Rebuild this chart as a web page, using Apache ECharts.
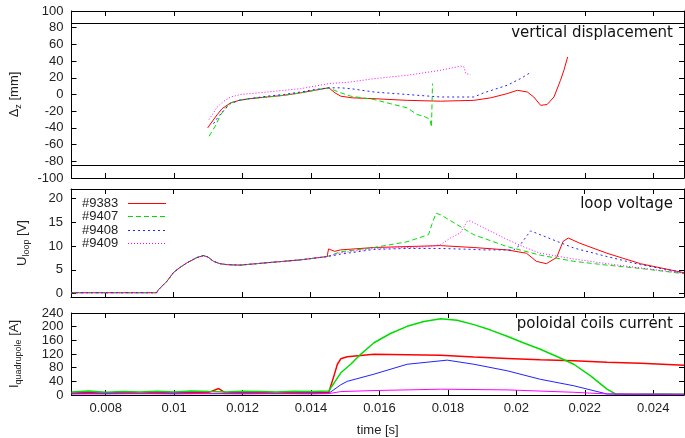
<!DOCTYPE html>
<html>
<head>
<meta charset="utf-8">
<script src="https://cdn.jsdelivr.net/npm/echarts@6/dist/echarts.min.js"></script>
<style>
  html, body { margin: 0; padding: 0; background: #fff; }
  #chart { width: 685px; height: 438px; }
</style>
</head>
<body>
<div id="chart"></div>
<script>
  // shots shown in every panel
  const shots = ["#9383", "#9407", "#9408", "#9409"];
  const timeTicks = [0.008, 0.01, 0.012, 0.014, 0.016, 0.018, 0.02, 0.022, 0.024];
  const uloopTicks = [0, 5, 10, 15, 20];
  const dzLimits = [85, -85];

  // vertical displacement [mm]
  const dz9383 = [[0.01098,-40],[0.0111,-33],[0.01126,-24],[0.0114,-17],[0.01165,-10],[0.0119,-7],[0.0122,-5],[0.01272,-3],[0.0132,-1],[0.0137,2],[0.0141,5],[0.01452,8],[0.0147,2],[0.01487,-2],[0.0152,-4],[0.01584,-5],[0.01681,-7],[0.01779,-8],[0.01876,-7],[0.01925,-4],[0.01973,1],[0.02003,5],[0.02032,3],[0.02051,-3],[0.02071,-13],[0.0209,-12],[0.0211,-3],[0.02129,17],[0.02139,29],[0.0215,45]];
  const dz9407 = [[0.01102,-50],[0.0112,-38],[0.01135,-25],[0.0115,-16],[0.01165,-10],[0.0119,-7],[0.0122,-5],[0.01272,-3],[0.0132,-1],[0.0137,2],[0.0141,5],[0.01452,8],[0.0148,3],[0.01516,-2],[0.01584,-6],[0.01632,-11],[0.01681,-16],[0.0171,-24],[0.0173,-26],[0.01748,-30],[0.01752,-39],[0.01755,13]];
  const dz9408 = [[0.01115,-35],[0.0113,-26],[0.0115,-17],[0.01165,-11],[0.0119,-7],[0.0122,-5],[0.01272,-2],[0.0132,0],[0.0137,3],[0.0141,6],[0.01452,8],[0.01487,8],[0.01516,7],[0.01584,3],[0.01681,0],[0.01779,-3],[0.01876,-3],[0.01905,2],[0.01973,11],[0.02012,19],[0.0204,26]];
  const dz9409 = [[0.01102,-30],[0.01126,-15],[0.01145,-8],[0.01165,-3],[0.01194,0],[0.01272,3],[0.0137,7],[0.01452,13],[0.01516,15],[0.01584,19],[0.01681,23],[0.01779,29],[0.01837,34],[0.01847,33],[0.01852,25],[0.01866,24]];

  // loop voltage [V]
  const uloopStart = [[0.007,0.2],[0.0095,0.2],[0.00955,0.8],[0.0098,2.6],[0.01,4.5],[0.0102,5.6],[0.01039,6.5],[0.01068,7.6],[0.01087,8.0],[0.011,7.7],[0.01116,6.8],[0.01135,6.3],[0.01155,6.1],[0.01194,6.0],[0.01272,6.5],[0.0137,7.1],[0.01448,7.8]];
  const uloop9383 = uloopStart.concat([[0.01452,9.4],[0.0147,8.9],[0.01487,9.2],[0.01584,9.7],[0.01681,9.9],[0.01779,10.1],[0.01876,9.7],[0.01973,9.2],[0.0203,8.5],[0.02059,6.8],[0.02088,6.3],[0.02118,7.6],[0.02137,11],[0.02152,11.7],[0.02186,10.6],[0.02265,8.5],[0.02363,6.3],[0.0249,4.4]]);
  const uloop9407 = uloopStart.concat([[0.01487,8.8],[0.01584,9.7],[0.01681,10.9],[0.01744,12.4],[0.01754,14.6],[0.01766,16.9],[0.01779,16.6],[0.01876,12.4],[0.01973,9.9],[0.0207,8.1],[0.02168,6.8],[0.02265,6.0],[0.02363,5.3],[0.0249,4.2]]);
  const uloop9408 = uloopStart.concat([[0.01487,8.3],[0.01584,9.3],[0.01681,9.5],[0.01779,9.5],[0.01876,9.3],[0.01905,9.2],[0.01993,9.2],[0.02012,10.3],[0.02042,13.2],[0.0207,12.4],[0.02168,9.6],[0.02265,7.8],[0.02363,6.1],[0.0249,4.4]]);
  const uloop9409 = uloopStart.concat([[0.01487,8.6],[0.01584,9.5],[0.01681,9.7],[0.01744,9.9],[0.01779,10.3],[0.01808,11.7],[0.01837,12.8],[0.01857,15.2],[0.01866,15.3],[0.01895,14.2],[0.01973,11.4],[0.0203,9.6],[0.0207,8.5],[0.02168,7.3],[0.02265,6.3],[0.02363,5.4],[0.0249,4.3]]);

  // quadrupole coil current [A]
  const iq9383 = [[0.007,6],[0.0075,7],[0.008,5],[0.0085,8],[0.009,6],[0.0095,7],[0.01,6],[0.0105,9],[0.011,7],[0.0113,19],[0.0115,6],[0.012,8],[0.0125,7],[0.013,6],[0.0135,8],[0.014,7],[0.01452,8],[0.01467,56],[0.01477,90],[0.01487,106],[0.01506,112],[0.01584,119],[0.01681,118],[0.01779,116],[0.01876,111],[0.01973,107],[0.0207,103],[0.02168,100],[0.02265,96],[0.02363,93],[0.0249,87]];
  const iq9407 = [[0.007,9],[0.0075,12],[0.008,8],[0.0085,10],[0.009,9],[0.0095,11],[0.01,9],[0.0105,12],[0.011,10],[0.0115,9],[0.012,11],[0.0125,10],[0.013,9],[0.0135,11],[0.014,10],[0.01452,12],[0.01487,65],[0.01516,90],[0.01545,119],[0.01584,153],[0.01632,180],[0.01681,201],[0.0173,215],[0.01779,223],[0.01827,219],[0.01876,206],[0.01925,190],[0.01973,172],[0.0202,153],[0.0207,134],[0.0212,112],[0.02168,90],[0.02217,56],[0.02265,17],[0.0229,3],[0.0235,2],[0.0242,3],[0.0249,2]];
  const iq9408 = [[0.007,4],[0.008,5],[0.009,4],[0.01,5],[0.011,4],[0.012,5],[0.013,4],[0.014,5],[0.01452,5],[0.01487,30],[0.01506,40],[0.01584,61],[0.01681,90],[0.01798,102],[0.01876,90],[0.01973,71],[0.0207,46],[0.02168,27],[0.02265,3],[0.0235,2],[0.0249,2]];
  const iq9409 = [[0.007,3],[0.008,3],[0.009,4],[0.01,3],[0.011,4],[0.012,3],[0.013,4],[0.014,3],[0.01452,4],[0.01487,10],[0.01584,13],[0.01779,17],[0.01973,15],[0.02168,8],[0.02265,3],[0.0249,2]];

  const colors = ["#ff0000", "#00dd00", "#2222ff", "#ff00ff"];
  const dashes = ["solid", [5, 3], [2, 3], [1, 2]];
  const font = "Liberation Sans";

  const myChart = echarts.init(document.getElementById("chart"));

  const grids = [
    { left: 71, width: 613, top: 11, height: 167 },
    { left: 71, width: 613, top: 189, height: 108 },
    { left: 71, width: 613, top: 313, height: 83 },
  ];

  function makeX(gi, pos, withLabels) {
    return {
      type: "value",
      gridIndex: gi,
      position: pos,
      min: 0.007,
      max: 0.0249,
      splitLine: { show: false },
      axisLine: { show: true, onZero: false, lineStyle: { color: "#000", width: 1 } },
      axisTick: { show: true, inside: true, length: 5, customValues: timeTicks, lineStyle: { color: "#000" } },
      axisLabel: {
        show: withLabels,
        customValues: timeTicks,
        margin: 7,
        color: "#222",
        fontFamily: font,
        fontSize: 13,
        formatter: (v) => String(+v.toFixed(4)),
      },
    };
  }

  function makeY(gi, pos, range, withLabels, name, gap) {
    const y = {
      type: "value",
      gridIndex: gi,
      position: pos,
      min: range.min,
      max: range.max,
      splitLine: { show: false },
      axisLine: { show: true, onZero: false, lineStyle: { color: "#000", width: 1 } },
      axisTick: { show: true, inside: true, length: 5, lineStyle: { color: "#000" } },
      axisLabel: { show: withLabels, margin: 8, color: "#222", fontFamily: font, fontSize: 13 },
    };
    if (range.interval) y.interval = range.interval;
    if (range.ticks) {
      y.axisTick.customValues = range.ticks;
      y.axisLabel.customValues = range.ticks;
    }
    if (name) {
      y.name = name;
      y.nameLocation = "middle";
      y.nameRotate = 90;
      y.nameGap = gap;
      y.nameTextStyle = {
        color: "#222",
        fontFamily: font,
        rich: {
          m: { fontSize: 13, fontFamily: font, color: "#222", lineHeight: 18 },
          s: { fontSize: 9, fontFamily: font, color: "#222", lineHeight: 9, verticalAlign: "bottom" },
        },
      };
    }
    return y;
  }

  const ranges = [
    { min: -100, max: 100, interval: 20 },
    { min: -0.7, max: 22, ticks: uloopTicks },
    { min: 0, max: 240, interval: 40 },
  ];

  const xAxes = [];
  const yAxes = [];
  for (let g = 0; g < 3; g++) {
    xAxes.push(makeX(g, "bottom", g === 2));
    xAxes.push(makeX(g, "top", false));
  }
  xAxes[4].name = "time [s]";
  xAxes[4].nameLocation = "middle";
  xAxes[4].nameGap = 29;
  xAxes[4].nameTextStyle = { color: "#222", fontFamily: font, fontSize: 13 };

  yAxes.push(makeY(0, "left", ranges[0], true, "{m|Δ}{s|z}{m| [mm]}", 48));
  yAxes.push(makeY(0, "right", ranges[0], false));
  yAxes.push(makeY(1, "left", ranges[1], true, "{m|U}{s|loop}{m| [V]}", 40));
  yAxes.push(makeY(1, "right", ranges[1], false));
  yAxes.push(makeY(2, "left", ranges[2], true, "{m|I}{s|quadrupole}{m| [A]}", 48));
  yAxes.push(makeY(2, "right", ranges[2], false));

  const panels = [
    [dz9383, dz9407, dz9408, dz9409],
    [uloop9383, uloop9407, uloop9408, uloop9409],
    [iq9383, iq9407, iq9408, iq9409],
  ];

  // the two horizontal limit lines of the displacement panel
  const series = [
    {
      name: "limits",
      type: "line",
      xAxisIndex: 0,
      yAxisIndex: 0,
      data: [],
      silent: true,
      markLine: {
        symbol: "none",
        silent: true,
        label: { show: false },
        lineStyle: { color: "#000", type: "solid", width: 1 },
        data: dzLimits.map((v) => ({ yAxis: v })),
      },
    },
  ];
  panels.forEach((list, p) => {
    list.forEach((data, i) => {
      series.push({
        name: shots[i],
        type: "line",
        color: colors[i],
        xAxisIndex: p * 2,
        yAxisIndex: p * 2,
        data: data,
        symbol: "none",
        silent: true,
        lineStyle: {
          color: colors[i],
          width: p === 2 && i < 2 ? 1.5 : 1,
          type: p === 2 ? "solid" : dashes[i],
        },
        itemStyle: { color: colors[i] },
      });
    });
  });

  // key in the loop voltage panel: shot number, then a sample of its stroke
  const keys = [];
  shots.forEach((n, i) => {
    const y = Math.round(203 + i * 13.3);
    keys.push({
      type: "text",
      silent: true,
      x: 82,
      y: y,
      z: 10,
      style: { text: n, fill: "#222", font: "13px 'Liberation Sans'", textAlign: "left", textVerticalAlign: "middle" },
    });
    keys.push({
      type: "line",
      silent: true,
      z: 10,
      shape: { x1: 128, y1: y + 0.5, x2: 166, y2: y + 0.5 },
      style: {
        stroke: colors[i],
        fill: null,
        opacity: 1,
        lineWidth: 1.2,
        lineDash: dashes[i] === "solid" ? null : dashes[i],
      },
    });
  });

  const titleStyle = { fill: "#111", font: "15px 'DejaVu Sans'", textAlign: "right", textVerticalAlign: "middle" };

  const option = {
    animation: false,
    grid: grids,
    xAxis: xAxes,
    yAxis: yAxes,
    graphic: [
      { type: "text", right: 12, top: 26, style: Object.assign({ text: "vertical displacement" }, titleStyle) },
      { type: "text", right: 12, top: 197, style: Object.assign({ text: "loop voltage" }, titleStyle) },
      { type: "text", right: 12, top: 317, style: Object.assign({ text: "poloidal coils current" }, titleStyle) },
    ].concat(keys),
    series: series,
  };

  myChart.setOption(option);
</script>
</body>
</html>
